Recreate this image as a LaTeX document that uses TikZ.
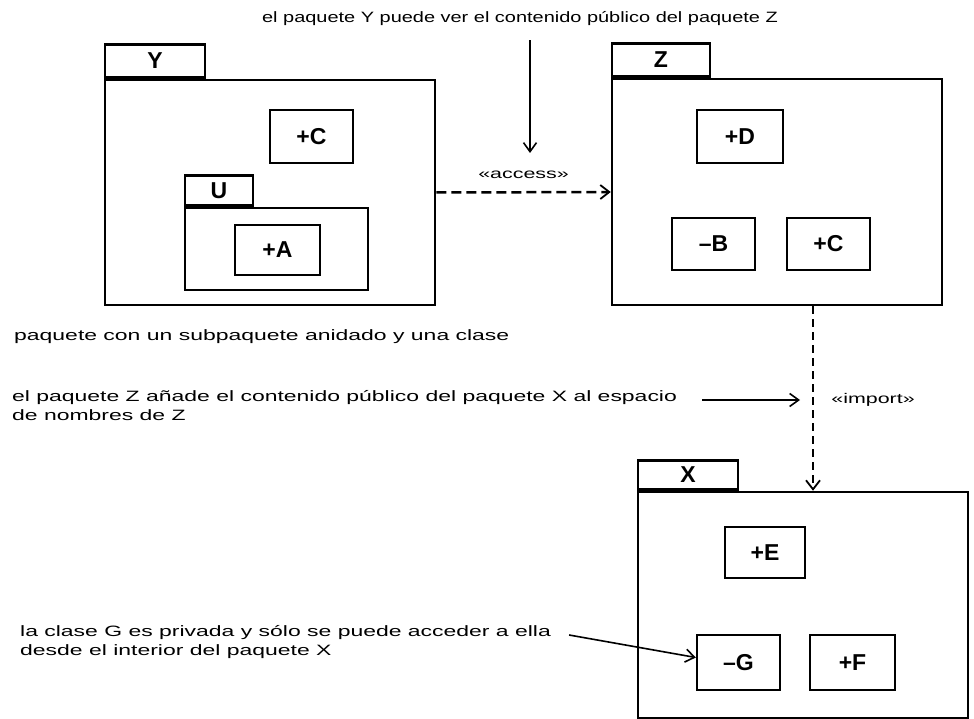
\documentclass[tikz,border=0pt]{standalone}
\usepackage{fontspec}
\setmainfont{Liberation Sans}
\newfontfamily\notefont[FakeStretch=1.53]{Liberation Sans}
\newfontfamily\topfont[FakeStretch=1.33]{Liberation Sans}
\usetikzlibrary{positioning,arrows.meta}

\begin{document}
\begin{tikzpicture}[x=1pt,y=-1pt,
    pkg/.style={draw,line width=2.5pt,inner sep=0pt},
    pkgtab/.style={draw,line width=2.5pt,inner sep=0pt,anchor=south west,font=\bfseries\fontsize{23}{23}\selectfont},
    cls/.style={draw,line width=2.3pt,inner sep=0pt,minimum width=83,minimum height=53,font=\bfseries\fontsize{23}{23}\selectfont},
    dep/.style={line width=2.5pt,dash pattern=on 10pt off 5pt,-{Straight Barb[length=9pt,width=14pt,line width=1.8pt]}},
    note/.style={line width=1.6pt,-{Straight Barb[length=9pt,width=13pt,line width=1.6pt]}},
    txt/.style={inner sep=0pt,align=left,font=\notefont\fontsize{15}{19}\selectfont}]
        \useasboundingbox (0,0) rectangle (974,719);
        % package Y with nested package U
        \node[pkg,minimum width=330,minimum height=225] (pkgY) at (270,192.5) {};
        \node[pkgtab,minimum width=100,minimum height=33] (tabY) at (pkgY.north west) {Y};
        \node[cls] (clsYC) at (311.5,136.5) {+C};
        \node[pkg,minimum width=183,minimum height=82] (pkgU) at (276.5,249) {};
        \node[pkgtab,minimum width=68,minimum height=30] (tabU) at (pkgU.north west) {U};
        \node[cls,minimum width=85,minimum height=50] (clsA) at (277.5,250) {+A};
        % package Z
        \node[pkg,minimum width=330,minimum height=226] (pkgZ) at (777,192) {};
        \node[pkgtab,minimum width=98,minimum height=33] (tabZ) at (pkgZ.north west) {Z};
        \node[cls,minimum width=86] (clsD) at (740,136.5) {+D};
        \node[cls,minimum height=52] (clsB) at (713.5,244) {–B};
        \node[cls,minimum height=52] (clsZC) at (828.5,244) {+C};
        % package X
        \node[pkg,minimum width=330,minimum height=226] (pkgX) at (803,605) {};
        \node[pkgtab,minimum width=100,minimum height=29] (tabX) at (pkgX.north west) {X};
        \node[cls,minimum width=80,minimum height=51] (clsE) at (765,552.5) {+E};
        \node[cls,minimum height=55] (clsG) at (738.5,662.5) {–G};
        \node[cls,minimum width=85,minimum height=55] (clsF) at (852.5,662.5) {+F};
        % notes
        \node[txt,font=\topfont\fontsize{15}{19}\selectfont] (noteY) at (520,19) {el paquete Y puede ver el contenido público del paquete Z};
        \node[txt,anchor=west] (noteU) at (14,337) {paquete con un subpaquete anidado y una clase};
        \node[txt,anchor=north west] (noteZ) at (12,390) {el paquete Z añade el contenido público del paquete X al espacio\\de nombres de Z};
        \node[txt,anchor=north west] (noteG) at (20,625) {la clase G es privada y sólo se puede acceder a ella\\desde el interior del paquete X};
        % dependencies
        \draw[dep] (pkgY.east) -- node[above=9pt,font=\notefont\fontsize{14}{14}\selectfont] (lblAccess) {«access»} (pkgZ.west);
        \coordinate (imp) at (813,0);
        \draw[dep,line width=2pt,dash pattern=on 8pt off 5pt] (pkgZ.south -| imp) -- (pkgX.north -| imp);
        \node[font=\notefont\fontsize{14}{14}\selectfont] (lblImport) at (873,400) {«import»};
        % note arrows
        \coordinate (acc) at (530,153);
        \coordinate (impnote) at (800,400);
        \draw[note] (noteY.south -| acc) ++(0,14) -- (acc);
        \draw[note] (702,400) -- (impnote);
        \draw[note] (noteG.north east) ++(18,10) -- ([yshift=5pt]clsG.west);
\end{tikzpicture}
\end{document}
